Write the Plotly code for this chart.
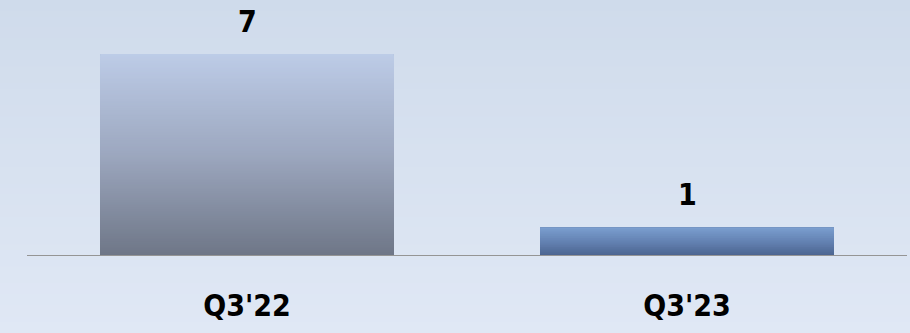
import plotly.graph_objects as go

# Chart data
categories = ["Q3'22", "Q3'23"]
values = [7, 1]
value_labels = ["7", "1"]

# Gradient stops (top -> bottom) for each bar
bar_gradients = [
    [(189, 204, 231), (156, 167, 191), (110, 118, 134)],
    [(123, 159, 208), (100, 130, 178), (74, 99, 142)],
]
bg_top = (207, 219, 235)
bg_bottom = (224, 232, 245)

BAR_WIDTH = 0.668
FONT = "DejaVu Sans Condensed, DejaVu Sans, sans-serif"


def lerp(c0, c1, t):
    return tuple(round(a + (b - a) * t) for a, b in zip(c0, c1))


def grad_color(stops, t):
    # t = 0 at top, 1 at bottom
    seg = t * (len(stops) - 1)
    i = min(int(seg), len(stops) - 2)
    return lerp(stops[i], stops[i + 1], seg - i)


def rgb(c):
    return "rgb(%d,%d,%d)" % c


fig = go.Figure()
fig.add_trace(go.Bar(
    x=list(range(len(categories))),
    y=values,
    width=BAR_WIDTH,
    marker=dict(color=[rgb(g[-1]) for g in bar_gradients], line=dict(width=0)),
    hovertext=categories,
    showlegend=False,
))

shapes = []

# Background: vertical gradient across the whole figure.
# Each band reaches down to the bottom edge and the next one is drawn over it,
# so no seams appear between bands.
W, H = 910, 333
ml, mr, mt, mb = 27, 3, 0, 77
pw, ph = W - ml - mr, H - mt - mb
n_bg = 60
px0, px1 = -ml / pw, 1 + mr / pw
py_top, py_bot = 1 + mt / ph, -mb / ph
for k in range(n_bg):
    t0 = k / n_bg
    t1 = (k + 1) / n_bg
    shapes.append(dict(
        type="rect", xref="paper", yref="paper", layer="below",
        x0=px0, x1=px1,
        y0=py_bot,
        y1=py_top + (py_bot - py_top) * t0,
        fillcolor=rgb(lerp(bg_top, bg_bottom, (t0 + t1) / 2)),
        line=dict(width=0),
    ))

# Bars: gradient overlay bands in data coordinates, stacked top-down
for i, (v, stops) in enumerate(zip(values, bar_gradients)):
    n = max(12, int(v * 16))
    for k in range(n):
        t0 = k / n
        t1 = (k + 1) / n
        shapes.append(dict(
            type="rect", xref="x", yref="y", layer="above",
            x0=i - BAR_WIDTH / 2, x1=i + BAR_WIDTH / 2,
            y0=0, y1=v * (1 - t0),
            fillcolor=rgb(grad_color(stops, (t0 + t1) / 2)),
            line=dict(width=0),
        ))

# Baseline
shapes.append(dict(
    type="line", xref="paper", yref="y", layer="above",
    x0=0, x1=1, y0=0, y1=0,
    line=dict(color="#959595", width=2),
))

annotations = []
for i, (v, lab) in enumerate(zip(values, value_labels)):
    annotations.append(dict(
        x=i, y=v, xref="x", yref="y", text="<b>%s</b>" % lab,
        showarrow=False, yanchor="middle", yshift=33,
        font=dict(family=FONT, size=30, color="#000000"),
    ))

fig.update_layout(
    width=W, height=H,
    margin=dict(l=ml, r=mr, t=mt, b=mb),
    paper_bgcolor=rgb(bg_bottom),
    plot_bgcolor="rgba(0,0,0,0)",
    shapes=shapes,
    annotations=annotations,
    bargap=1 - BAR_WIDTH,
    xaxis=dict(
        tickmode="array",
        tickvals=list(range(len(categories))),
        ticktext=categories,
        range=[-0.5, len(categories) - 0.5],
        showgrid=False, zeroline=False, showline=False,
        ticks="", ticklabelstandoff=29,
        tickfont=dict(family=FONT, size=30, color="#000000", weight="bold"),
        fixedrange=True,
    ),
    yaxis=dict(
        range=[0, ph / (202 / 7)],
        visible=False, fixedrange=True,
    ),
)

fig.write_html("out.html")
